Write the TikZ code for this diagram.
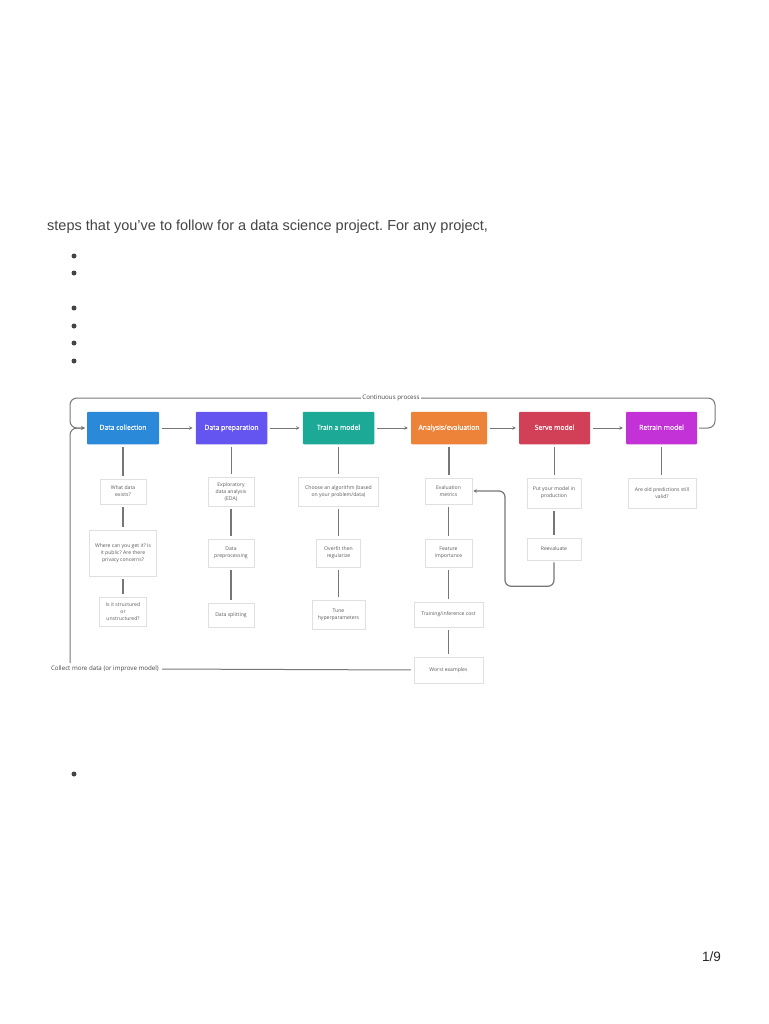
\documentclass[tikz,border=0pt]{standalone}
\usepackage{fontspec}
\setmainfont{Liberation Sans}
\newfontfamily\dfont{Open Sans}
\newfontfamily\dfontm{Open Sans}[FakeBold=0.5]
\usetikzlibrary{arrows.meta}
\frenchspacing
\definecolor{cBlue}{HTML}{2B89D9}
\definecolor{cPurple}{HTML}{6555F0}
\definecolor{cTeal}{HTML}{1CAA96}
\definecolor{cOrange}{HTML}{EC8339}
\definecolor{cRed}{HTML}{D24058}
\definecolor{cMagenta}{HTML}{C332D6}
\definecolor{lineGray}{HTML}{767676}
\definecolor{textGray}{HTML}{444444}
\definecolor{subText}{HTML}{5A5A5A}
\tikzset{
  mainbox/.style={fill=#1, draw=none, rounded corners=1pt, text=white, inner sep=0pt,
    text height=5pt, text depth=1.4pt,
    minimum height=32.5pt, font=\dfontm\fontsize{6.8}{8}\selectfont},
  subbox/.style={fill=white, draw=black!12, line width=0.5pt, text=subText, inner sep=0pt,
    align=center, font=\dfont\fontsize{5.1}{7}\selectfont},
  conn/.style={draw=lineGray, line width=1.3pt},
  flow/.style={draw=lineGray, line width=1pt, -{Stealth[length=3.5pt,width=3.5pt]}},
  bulletdot/.style={circle, fill=textGray, inner sep=0pt, minimum size=5pt},
  pagetext/.style={text=textGray, font=\fontsize{14.5}{17}\selectfont, inner sep=0pt},
  looplabel/.style={text=textGray, font=\dfont\fontsize{6.2}{7}\selectfont},
}
\begin{document}
\begin{tikzpicture}[x=1pt,y=-1pt]
\useasboundingbox (0,0) rectangle (768,1024);

% intro text and bullets
\node[pagetext, anchor=base west] (intro) at (47,231) {steps that you’ve to follow for a data science project. For any project,};
\node[bulletdot] (b1) at (74,256) {};
\node[bulletdot] (b2) at (74,273) {};
\node[bulletdot] (b3) at (74,308) {};
\node[bulletdot] (b4) at (74,326) {};
\node[bulletdot] (b5) at (74,343) {};
\node[bulletdot] (b6) at (74,361) {};
\node[bulletdot] (b7) at (74,774) {};
\node[anchor=base east, inner sep=0pt, text=black!85, font=\fontsize{13.5}{16}\selectfont] (pnum) at (721,961) {1/9};

% main boxes
\node[mainbox=cBlue, minimum width=72pt] (dc) at (123,428) {Data collection};
\node[mainbox=cPurple, minimum width=71.5pt] (dp) at (231.5,428) {Data preparation};
\node[mainbox=cTeal, minimum width=71.5pt] (tm) at (338.5,428) {Train a model};
\node[mainbox=cOrange, minimum width=76pt] (ae) at (449,428) {Analysis/evaluation};
\node[mainbox=cRed, minimum width=71pt] (sm) at (554.5,428) {Serve model};
\node[mainbox=cMagenta, minimum width=71pt] (rm) at (661.5,428) {Retrain model};

% sub boxes
\node[subbox, minimum width=46pt, minimum height=25pt] (c1a) at (123,491.5) {What data\\exists?};
\node[subbox, minimum width=67pt, minimum height=46pt] (c1b) at (123,553) {Where can you get it? Is\\it public? Are there\\privacy concerns?};
\node[subbox, minimum width=47pt, minimum height=29pt] (c1c) at (123,611.5) {Is it structured\\or\\unstructured?};

\node[subbox, minimum width=46pt, minimum height=29pt] (c2a) at (231,491.5) {Exploratory\\data analysis\\(EDA)};
\node[subbox, minimum width=46pt, minimum height=28pt] (c2b) at (231,553) {Data\\preprocessing};
\node[subbox, minimum width=46pt, minimum height=24pt] (c2c) at (231,615) {Data splitting};

\node[subbox, minimum width=80pt, minimum height=29pt] (c3a) at (338.5,491.5) {Choose an algorithm (based\\on your problem/data)};
\node[subbox, minimum width=44pt, minimum height=28pt] (c3b) at (338.5,553) {Overfit then\\regularize};
\node[subbox, minimum width=53pt, minimum height=29pt] (c3c) at (338.5,614.5) {Tune\\hyperparameters};

\node[subbox, minimum width=47pt, minimum height=26pt] (c4a) at (448.5,491) {Evaluation\\metrics};
\node[subbox, minimum width=47pt, minimum height=28pt] (c4b) at (448.5,553) {Feature\\importance};
\node[subbox, minimum width=69pt, minimum height=25pt] (c4c) at (448.5,614.5) {Training/inference cost};
\node[subbox, minimum width=69pt, minimum height=26pt] (c4d) at (448.5,670) {Worst examples};

\node[subbox, minimum width=54pt, minimum height=30pt] (c5a) at (554,493) {Put your model in\\production};
\node[subbox, minimum width=54pt, minimum height=22pt] (c5b) at (554,549) {Reevaluate};

\node[subbox, minimum width=68pt, minimum height=30pt] (c6a) at (662,493) {Are old predictions still\\valid?};

% horizontal flow arrows
\draw[flow, shorten <=3pt, shorten >=3pt] (dc.east) -- (dp.west);
\draw[flow, shorten <=3pt, shorten >=3pt] (dp.east) -- (tm.west);
\draw[flow, shorten <=3pt, shorten >=3pt] (tm.east) -- (ae.west);
\draw[flow, shorten <=3pt, shorten >=3pt] (ae.east) -- (sm.west);
\draw[flow, shorten <=3pt, shorten >=3pt] (sm.east) -- (rm.west);

% vertical connectors
\foreach \a/\b in {dc/c1a, c1a/c1b, c1b/c1c, dp/c2a, c2a/c2b, c2b/c2c, tm/c3a, c3a/c3b, c3b/c3c,
                   ae/c4a, c4a/c4b, c4b/c4c, c4c/c4d, sm/c5a, c5a/c5b, rm/c6a}
  \draw[conn, shorten <=3pt, shorten >=3pt] (\a.south) -- (\a.south |- \b.north);

% continuous process loop
\coordinate (loopL) at (70,428);
\draw[flow, rounded corners=7pt, shorten <=2pt, shorten >=2pt]
  (rm.east) -- (715,428) -- (715,398) -- (70,398) -- (loopL) -- (dc.west);
\node[looplabel, fill=white, inner sep=1pt] (cont) at (391,398) {Continuous process};

% collect more data loop
\node[looplabel, anchor=east, inner sep=0pt] (coll) at (159,669) {Collect more data (or improve model)};
\draw[conn, line width=1pt, shorten <=3pt, shorten >=3pt] (c4d.west) -- (coll.east);
\coordinate (collTop) at (70,663);
\draw[flow, rounded corners=7pt, shorten >=2pt] (collTop) -- (loopL) -- (dc.west);

% reevaluate feedback
\draw[flow, line width=1.2pt, rounded corners=6pt, shorten <=2pt, shorten >=1pt]
  (c5b.south) -- ++(0,26) -| (505,491) -- (c4a.east);
\end{tikzpicture}
\end{document}
